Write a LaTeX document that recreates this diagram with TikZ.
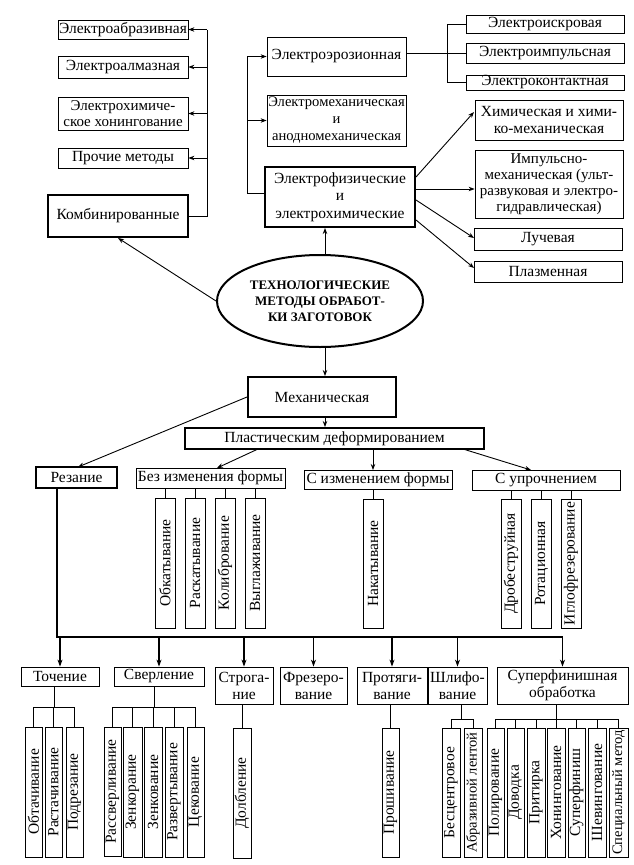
\documentclass[tikz,border=0pt]{standalone}
\usepackage{fontspec}
\setmainfont{Liberation Serif}
\usetikzlibrary{arrows.meta,shapes.geometric}
\begin{document}
\begin{tikzpicture}[x=1pt,y=-1pt,
  box/.style={draw, line width=0.8pt, inner sep=0.5pt, align=center,
    font=\fontsize{15.5}{17}\selectfont},
  tbox/.style={box, line width=2pt},
  vbox/.style={box, rotate=90, inner sep=0pt, minimum height=18, minimum width=130},
  arr/.style={-{Stealth[length=6pt,width=4.5pt]}, line width=0.9pt},
  tarr/.style={-{Stealth[length=7pt,width=5pt]}, line width=1.8pt},
  ln/.style={line width=0.8pt},
  thk/.style={line width=2pt}]
\useasboundingbox (0,0) rectangle (633,865);

% ---------- top left
\node[box, minimum width=130, minimum height=19] (eabr) at (123,29.5) {Электроабразивная};
\node[box, minimum width=130, minimum height=22] (ealm) at (123,67) {Электроалмазная};
\node[box, minimum width=130, minimum height=33, font=\fontsize{15}{15.5}\selectfont] (ehon) at (123,113.5) {Электрохимиче-\\ское хонингование};
\node[box, minimum width=130, minimum height=20] (proch) at (123,158) {Прочие методы};
\node[tbox, minimum width=140, minimum height=42] (komb) at (118,216) {Комбинированные};

\coordinate (kb) at (207,216);
\draw[ln] (komb.east) -- (kb) -- (kb |- eabr.east);
\draw[arr] (kb |- eabr.east) -- (eabr.east);
\draw[arr] (kb |- ealm.east) -- (ealm.east);
\draw[arr] (kb |- ehon.east) -- (ehon.east);
\draw[arr] (kb |- proch.east) -- (proch.east);

% ---------- top middle
\node[box, minimum width=139, minimum height=39] (eeroz) at (336.5,56.5) {Электроэрозионная};
\node[box, minimum width=139, minimum height=51, font=\fontsize{14.6}{17}\selectfont] (emeh) at (336.5,120.5) {Электромеханическая\\и\\анодномеханическая};
\node[tbox, minimum width=150, minimum height=60, font=\fontsize{15.5}{17.5}\selectfont] (efiz) at (340,197) {Электрофизические\\и\\электрохимические};

\coordinate (fb) at (247,193);
\draw[ln] (efiz.west |- fb) -- (fb) -- (fb |- eeroz.west);
\draw[arr] (fb |- eeroz.west) -- (eeroz.west);
\draw[arr] (fb |- emeh.west) -- (emeh.west);

% ---------- top right
\node[box, minimum width=158, minimum height=18] (eisk) at (545,24) {Электроискровая};
\node[box, minimum width=158, minimum height=20] (eimp) at (545,53) {Электроимпульсная};
\node[box, minimum width=158, minimum height=15, inner ysep=0pt] (ekon) at (545,82.5) {Электроконтактная};
\coordinate (eb) at (447,53);
\draw[ln] (eeroz.east |- eimp.west) -- (eimp.west);
\draw[ln] (eisk.west) -- (eisk.west -| eb) -- (ekon.west -| eb) -- (ekon.west);

\node[box, minimum width=148, minimum height=40] (ehim) at (549,120) {Химическая и хими-\\ко-механическая};
\node[box, minimum width=148, minimum height=68, font=\fontsize{15}{16.2}\selectfont] (eimpm) at (549,184) {Импульсно-\\механическая (ульт-\\развуковая и электро-\\гидравлическая)};
\node[box, minimum width=148, minimum height=22] (luch) at (548,239) {Лучевая};
\node[box, minimum width=148, minimum height=21] (plaz) at (548,271.5) {Плазменная};

\coordinate (f1) at (416,177);
\coordinate (f2) at (416,189);
\coordinate (f3) at (416,200);
\coordinate (f4) at (416,220);
\draw[arr] (f1) -- (474,112);
\draw[arr] (f2) -- (f2 -| eimpm.west);
\draw[arr] (f3) -- (474,238);
\draw[arr] (f4) -- (474,268);

% ---------- ellipse
\node[draw, ellipse, line width=2pt, minimum width=206, minimum height=92, inner sep=0pt, align=center,
  font=\fontsize{13}{16}\selectfont\bfseries] (ell) at (320,301) {ТЕХНОЛОГИЧЕСКИЕ\\МЕТОДЫ ОБРАБОТ-\\КИ ЗАГОТОВОК};
\coordinate (ax) at (325,0);
\draw[arr] (ell.west) -- (komb.south);
\draw[arr] (ax |- ell.north) -- (ax |- efiz.south);

% ---------- mechanical
\node[tbox, minimum width=148, minimum height=40] (meh) at (322,397) {Механическая};
\node[tbox, minimum width=299, minimum height=21] (plast) at (334.5,438.5) {Пластическим деформированием};
\draw[arr] (ax |- ell.south) -- (ax |- meh.north);
\draw[arr] (ax |- meh.south) -- (ax |- plast.north);

\node[tbox, minimum width=81, minimum height=21] (rez) at (76.5,477.5) {Резание};
\node[box, minimum width=149, minimum height=20] (bez) at (210.5,478) {Без изменения формы};
\node[box, minimum width=148, minimum height=19] (siz) at (378,479.5) {С изменением формы};
\node[box, minimum width=148, minimum height=20] (supr) at (546,480) {С упрочнением};

\draw[arr] (meh.west) -- (78,467);
\draw[arr] (258,449) -- (217,468);
\draw[arr] (373,449) -- (373,470);
\draw[arr] (463,449) -- (531,470);

\node[vbox, minimum height=20] (obk) at (165,563) {Обкатывание};
\node[vbox, minimum height=20] (rask) at (195,563) {Раскатывание};
\node[vbox, minimum height=20] (kal) at (225,563) {Колибрование};
\node[vbox, minimum height=20] (vygl) at (255,563) {Выглаживание};
\foreach \n in {obk,rask,kal,vygl} \draw[ln] (\n.east) -- (\n.east |- bez.south);

\node[vbox, minimum height=20, minimum width=129] (nak) at (373,563.5) {Накатывание};
\draw[ln] (nak.east) -- (nak.east |- siz.south);

\node[vbox, minimum height=20, minimum width=129] (drob) at (511,563.5) {Дробеструйная};
\node[vbox, minimum height=20, minimum width=129] (rot) at (541.5,563.5) {Ротационная};
\node[vbox, minimum height=20, minimum width=129] (igl) at (571,563.5) {Иглофрезерование};
\foreach \n in {drob,rot,igl} \draw[ln] (\n.east) -- (\n.east |- supr.south);

% ---------- cutting
\node[box, minimum width=78, minimum height=19] (toch) at (60,676.5) {Точение};
\node[box, minimum width=90, minimum height=19] (sver) at (159,676.5) {Сверление};
\node[box, minimum width=58, minimum height=37] (strog) at (244,685.5) {Строга-\\ние};
\node[box, minimum width=67, minimum height=37] (frez) at (313.5,685.5) {Фрезеро-\\вание};
\node[box, minimum width=70, minimum height=37] (prot) at (392,685.5) {Протяги-\\вание};
\node[box, minimum width=59, minimum height=37] (shl) at (457.5,685.5) {Шлифо-\\вание};
\node[box, minimum width=131, minimum height=37] (spf) at (562.5,685.5) {Суперфинишная\\обработка};

\coordinate (bus) at (57,637);
\draw[thk] (rez.south -| bus) -- (bus) -- (bus -| spf.north);
\foreach \n in {toch,sver,strog,frez,prot,shl,spf} \draw[tarr] (bus -| \n.north) -- (\n.north);

% Точение
\node[vbox, minimum height=17] (obt) at (33.5,792) {Обтачивание};
\node[vbox, minimum height=17] (rast) at (53.5,792) {Растачивание};
\node[vbox, minimum height=17] (podr) at (74.5,792) {Подрезание};
\coordinate (tb) at (54,707);
\draw[ln] (toch.south -| tb) -- (tb);
\draw[ln] (obt.east |- tb) -- (podr.east |- tb);
\foreach \n in {obt,rast,podr} \draw[ln] (\n.east) -- (\n.east |- tb);

% Сверление
\node[vbox, minimum height=17, minimum width=129] (rass) at (112.5,791.5) {Рассверливание};
\node[vbox, minimum height=19] (zenr) at (132.5,792) {Зенкорание};
\node[vbox, minimum height=18] (zenk) at (153,792) {Зенкование};
\node[vbox, minimum height=18] (razv) at (174,792) {Развертывание};
\node[vbox, minimum height=17] (cek) at (195.5,792) {Цекование};
\coordinate (sb) at (154,707);
\draw[ln] (sver.south -| sb) -- (sb);
\draw[ln] (rass.east |- sb) -- (cek.east |- sb);
\foreach \n in {rass,zenr,zenk,razv,cek} \draw[ln] (\n.east) -- (\n.east |- sb);

% Строгание
\node[vbox, minimum height=18] (dolb) at (242,793) {Долбление};
\draw[ln] (dolb.east) -- (dolb.east |- strog.south);

% Протягивание
\node[vbox, minimum height=17, minimum width=129] (prosh) at (390.5,792.5) {Прошивание};
\draw[ln] (prosh.east) -- (prosh.east |- prot.south);

% Шлифование
\node[vbox, minimum height=18, minimum width=129] (besc) at (451,792.5) {Бесцентровое};
\node[vbox, minimum height=18, minimum width=129, font=\fontsize{14.5}{16}\selectfont] (abr) at (473,792.5) {Абразивной лентой};
\coordinate (hb) at (461,719);
\draw[ln] (shl.south -| hb) -- (hb);
\draw[ln] (besc.east |- hb) -- (abr.east |- hb);
\foreach \n in {besc,abr} \draw[ln] (\n.east) -- (\n.east |- hb);

% Суперфинишная
\node[vbox, minimum height=17, minimum width=129] (pol) at (495.5,792.5) {Полирование};
\node[vbox, minimum height=17, minimum width=129] (dov) at (515.5,792.5) {Доводка};
\node[vbox, minimum height=18, minimum width=129] (prit) at (536,792.5) {Притирка};
\node[vbox, minimum height=18, minimum width=129] (hon) at (556,792.5) {Хонингование};
\node[vbox, minimum height=17, minimum width=129] (spfn) at (576.5,792.5) {Суперфиниш};
\node[vbox, minimum height=18, minimum width=129] (shev) at (597,792.5) {Шевингование};
\node[vbox, minimum height=19, minimum width=129, font=\fontsize{14.5}{16}\selectfont] (spec) at (618.5,792.5) {Специальный метод};
\coordinate (ub) at (556,719);
\draw[ln] (spf.south -| ub) -- (ub);
\draw[ln] (pol.east |- ub) -- (spec.east |- ub);
\foreach \n in {pol,dov,prit,hon,spfn,shev,spec} \draw[ln] (\n.east) -- (\n.east |- ub);
\end{tikzpicture}
\end{document}
